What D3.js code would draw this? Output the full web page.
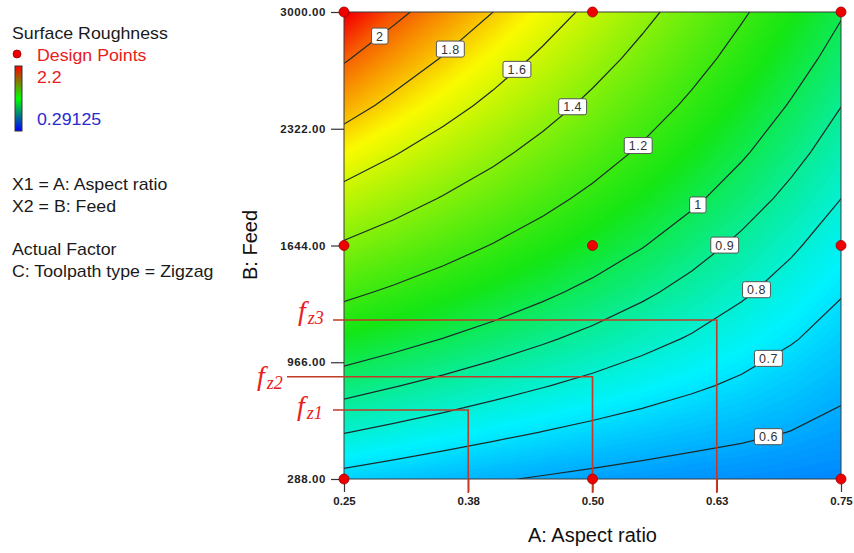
<!DOCTYPE html>
<html>
<head>
<meta charset="utf-8">
<script src="https://cdn.jsdelivr.net/npm/d3@7"></script>
<style>
  html, body { margin: 0; padding: 0; background: #ffffff; }
  svg { display: block; font-family: "Liberation Sans", Arial, sans-serif; }
</style>
</head>
<body>
<svg id="chart" width="854" height="553"></svg>
<script>
// Grid of the fitted surface: columns = A (aspect ratio), rows = B (feed)
const aspectValues = [0.25, 0.30, 0.35, 0.40, 0.45, 0.50, 0.55, 0.60, 0.65, 0.70, 0.75];
const feedValues = [288, 559.2, 830.4, 1101.6, 1372.8, 1644, 1915.2, 2186.4, 2457.6, 2728.8, 3000];
const roughness = [
    [0.670, 0.648, 0.627, 0.608, 0.592, 0.578, 0.565, 0.554, 0.545, 0.537, 0.530],
    [0.803, 0.775, 0.748, 0.722, 0.698, 0.675, 0.654, 0.634, 0.617, 0.598, 0.576],
    [0.940, 0.905, 0.871, 0.837, 0.805, 0.774, 0.744, 0.714, 0.684, 0.652, 0.618],
    [1.083, 1.040, 0.998, 0.955, 0.913, 0.872, 0.831, 0.791, 0.750, 0.707, 0.662],
    [1.230, 1.178, 1.126, 1.074, 1.022, 0.970, 0.918, 0.866, 0.813, 0.760, 0.706],
    [1.383, 1.320, 1.257, 1.194, 1.131, 1.068, 1.005, 0.941, 0.878, 0.814, 0.750],
    [1.540, 1.465, 1.390, 1.316, 1.241, 1.167, 1.093, 1.019, 0.946, 0.873, 0.800],
    [1.703, 1.613, 1.525, 1.438, 1.351, 1.266, 1.181, 1.097, 1.014, 0.932, 0.850],
    [1.865, 1.760, 1.660, 1.561, 1.462, 1.364, 1.268, 1.174, 1.082, 0.991, 0.902],
    [2.015, 1.900, 1.790, 1.680, 1.570, 1.462, 1.355, 1.251, 1.149, 1.051, 0.956],
    [2.220, 2.040, 1.920, 1.800, 1.680, 1.560, 1.441, 1.327, 1.217, 1.111, 1.010]
];

// contour levels and the aspect ratio where each level's label sits
const contourLevels = [0.6, 0.7, 0.8, 0.9, 1, 1.2, 1.4, 1.6, 1.8, 2];
const labelAspect = [0.677, 0.677, 0.665, 0.633, 0.606, 0.546, 0.480, 0.424, 0.357, 0.286];

const designAspect = [0.25, 0.5, 0.75];
const designFeed = [288, 1644, 3000];

const xTicks = [0.25, 0.375, 0.5, 0.625, 0.75];
const yTicks = [288, 966, 1644, 2322, 3000];

// feed-per-tooth reading lines
const zoneFeed = [689, 882, 1211];
const zoneAspect = [0.375, 0.5, 0.625];
const zoneNames = ["z1", "z2", "z3"];

const legendRange = [0.29125, 2.2];
// value where each rainbow colour sits (blue, cyan, green, yellow, red)
const colorStops = [0.29125, 0.73, 1.10, 1.70, 2.2];

const svg = d3.select("#chart");

const plotLeft = 344, plotRight = 841, plotTop = 12, plotBottom = 479;

const x = d3.scaleLinear().domain([0.25, 0.75]).range([plotLeft, plotRight]);
const y = d3.scaleLinear().domain([288, 3000]).range([plotBottom, plotTop]);

const lo = legendRange[0], hi = legendRange[1];
const color = d3.scaleLinear()
    .domain(colorStops)
    .range(["#0008ff", "#00f2ff", "#14e614", "#fafa00", "#f50000"])
    .clamp(true);

// grid index -> data value (d3.contours puts value i at i + 0.5)
const nx = aspectValues.length, ny = feedValues.length;
const gx = d3.scaleLinear().domain([0.5, nx - 0.5]).range([aspectValues[0], aspectValues[nx - 1]]);
const gy = d3.scaleLinear().domain([0.5, ny - 0.5]).range([feedValues[0], feedValues[ny - 1]]);
const toPx = p => [x(gx(p[0])), y(gy(p[1]))];
const path = d3.geoPath(d3.geoTransform({
    point(px, py) { const q = toPx([px, py]); this.stream.point(q[0], q[1]); }
}));

const flat = roughness.flat();

svg.append("defs").append("clipPath").attr("id", "plot-clip")
    .append("rect")
    .attr("x", plotLeft).attr("y", plotTop)
    .attr("width", plotRight - plotLeft).attr("height", plotBottom - plotTop);

// colour fill: stacked bands
const bandThresholds = d3.range(0.30, 2.24, 0.01);
const bands = d3.contours().size([nx, ny]).thresholds(bandThresholds)(flat);

const plot = svg.append("g").attr("clip-path", "url(#plot-clip)");
plot.selectAll("path.band")
    .data(bands)
    .join("path")
    .attr("class", "band")
    .attr("d", path)
    .attr("fill", d => color(d.value + 0.005))
    .attr("stroke", d => color(d.value + 0.005))
    .attr("stroke-width", 0.5);

// contour lines
const lines = d3.contours().size([nx, ny]).thresholds(contourLevels)(flat);
plot.selectAll("path.line")
    .data(lines)
    .join("path")
    .attr("class", "line")
    .attr("d", path)
    .attr("fill", "none")
    .attr("stroke", "#1c2b2b")
    .attr("stroke-width", 1.2);

// frame
svg.append("rect")
    .attr("x", plotLeft).attr("y", plotTop)
    .attr("width", plotRight - plotLeft).attr("height", plotBottom - plotTop)
    .attr("fill", "none")
    .attr("stroke", "#3a3a3a")
    .attr("stroke-width", 1);

// axes
const xAxis = d3.axisBottom(x).tickValues(xTicks).tickFormat(d3.format(".2f")).tickSize(13).tickPadding(5);
const yAxis = d3.axisLeft(y).tickValues(yTicks).tickFormat(d3.format(".2f")).tickSize(13).tickPadding(5);

const gxAxis = svg.append("g").attr("transform", `translate(0,${plotBottom})`).call(xAxis);
const gyAxis = svg.append("g").attr("transform", `translate(${plotLeft},0)`).call(yAxis);
[gxAxis, gyAxis].forEach(g => {
    g.select(".domain").remove();
    g.selectAll(".tick line").attr("stroke", "#333").attr("stroke-width", 1.2);
    g.selectAll(".tick text")
        .attr("fill", "#222")
        .style("font-family", "'Liberation Sans', Arial, sans-serif")
        .style("font-weight", "bold");
});
gxAxis.selectAll(".tick text").style("font-size", "11.5px");
gyAxis.selectAll(".tick text").style("font-size", "11.5px").style("letter-spacing", "0.6px");

// axis titles
svg.append("text")
    .attr("x", (plotLeft + plotRight) / 2)
    .attr("y", 542)
    .attr("text-anchor", "middle")
    .style("font-size", "20px")
    .attr("fill", "#111")
    .text("A: Aspect ratio");

svg.append("text")
    .attr("transform", "translate(257,245) rotate(-90)")
    .attr("text-anchor", "middle")
    .style("font-size", "20px")
    .attr("fill", "#111")
    .text("B: Feed");

// red reading lines
const zoneStart = [333, 287, 333];
const zoneLabelShift = [[-36, 5], [-30, 8], [-35, 0]];
const zoneColor = "#c43a26";

zoneFeed.forEach((f, i) => {
    svg.append("path")
        .attr("d", `M${zoneStart[i]},${y(f)}H${x(zoneAspect[i])}V${plotBottom + 14}`)
        .attr("fill", "none")
        .attr("stroke", zoneColor)
        .attr("stroke-width", 1.6);

    const t = svg.append("text")
        .attr("x", zoneStart[i] + zoneLabelShift[i][0])
        .attr("y", y(f) + zoneLabelShift[i][1])
        .attr("fill", "#e8201c")
        .style("font-family", "'Liberation Serif', 'Times New Roman', serif")
        .style("font-style", "italic");
    t.append("tspan").style("font-size", "28px").text("f");
    t.append("tspan").style("font-size", "18px").attr("dx", 2).attr("dy", 4).text(zoneNames[i]);
});

// contour labels
lines.forEach((c, i) => {
    const px = x(labelAspect[i]);
    let py = null;
    c.coordinates.forEach(poly => poly.forEach(ring => {
        for (let k = 1; k < ring.length; k++) {
            const p0 = toPx(ring[k - 1]), p1 = toPx(ring[k]);
            if (p0[0] === p1[0]) continue;
            if ((p0[0] - px) * (p1[0] - px) <= 0) {
                const yy = p0[1] + (px - p0[0]) / (p1[0] - p0[0]) * (p1[1] - p0[1]);
                if (py === null && yy > plotTop + 1 && yy < plotBottom - 1) py = yy;
            }
        }
    }));
    if (py === null) return;
    const g = svg.append("g").attr("transform", `translate(${px},${py})`);
    const rect = g.append("rect");
    const txt = g.append("text")
        .attr("text-anchor", "middle")
        .attr("dy", "0.36em")
        .style("font-size", "12.5px")
        .style("letter-spacing", "0.5px")
        .attr("fill", "#333")
        .text(d3.format("~g")(c.value));
    const w = txt.node().getComputedTextLength() + 9;
    rect.attr("x", -w / 2).attr("y", -8).attr("width", w).attr("height", 16)
        .attr("rx", 2)
        .attr("fill", "#ffffff")
        .attr("stroke", "#555")
        .attr("stroke-width", 1);
});

// design points
const designPts = d3.cross(designAspect, designFeed);
svg.selectAll("circle.design")
    .data(designPts)
    .join("circle")
    .attr("class", "design")
    .attr("cx", d => x(d[0]))
    .attr("cy", d => y(d[1]))
    .attr("r", 5)
    .attr("fill", "#ee0000")
    .attr("stroke", "#9a0000")
    .attr("stroke-width", 0.8);

// legend
const grad = svg.select("defs").append("linearGradient")
    .attr("id", "legend-grad")
    .attr("x1", 0).attr("y1", 0).attr("x2", 0).attr("y2", 1);
grad.append("stop").attr("offset", "0%").attr("stop-color", "#ff0000");
grad.append("stop").attr("offset", "50%").attr("stop-color", "#00ff00");
grad.append("stop").attr("offset", "100%").attr("stop-color", "#0000ff");

svg.append("rect")
    .attr("x", 15).attr("y", 66).attr("width", 7).attr("height", 65)
    .attr("fill", "url(#legend-grad)")
    .attr("stroke", "#333").attr("stroke-width", 1);

svg.append("circle")
    .attr("cx", 17).attr("cy", 54).attr("r", 4)
    .attr("fill", "#ee0000").attr("stroke", "#9a0000").attr("stroke-width", 0.8);

const legend = svg.append("g").attr("transform", "scale(1.11,1)");
const lx = v => v / 1.11;
const legendText = (px, py, txt, fill) => legend.append("text")
    .attr("x", lx(px)).attr("y", py)
    .style("font-size", "16px")
    .attr("fill", fill)
    .text(txt);

legendText(12, 39, "Surface Roughness", "#1a1a1a");
legendText(37, 61, "Design Points", "#e8201c");
legendText(37, 83, d3.format(".1f")(hi), "#e8201c");
legendText(37, 125, String(lo), "#2a2ad0");
legendText(12, 190, "X1 = A: Aspect ratio", "#1a1a1a");
legendText(12, 212, "X2 = B: Feed", "#1a1a1a");
legendText(12, 255, "Actual Factor", "#1a1a1a");
legendText(12, 277, "C: Toolpath type = Zigzag", "#1a1a1a");
</script>
</body>
</html>
